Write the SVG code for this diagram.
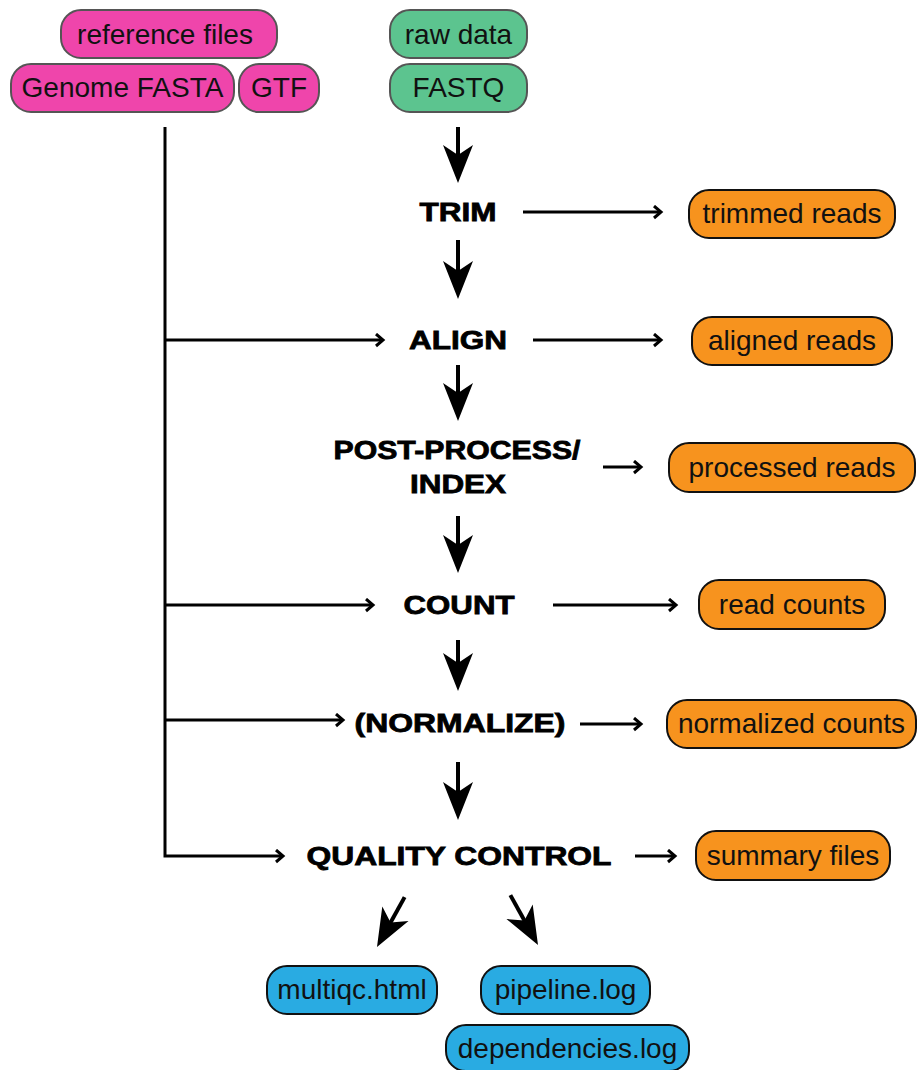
<svg xmlns="http://www.w3.org/2000/svg" width="919" height="1070" viewBox="0 0 919 1070">
<defs>
<style>
.box{stroke-width:2}
.pink{fill:#EF45AB;stroke:#555}
.green{fill:#5CC48F;stroke:#555}
.orange{fill:#F7931E;stroke:#111}
.blue{fill:#29ABE2;stroke:#111}
.lbl{font-family:"Liberation Sans",Arial,sans-serif;font-size:28px;fill:#111;text-anchor:middle}
.step{font-family:"Liberation Sans",Arial,sans-serif;font-weight:bold;font-size:26.5px;fill:#000;stroke:#000;stroke-width:0.8;text-anchor:middle}
.thin{stroke:#000;stroke-width:3;fill:none}
.shaft{stroke:#000;stroke-width:4;fill:none}
.head{fill:#000}
</style>
<marker id="chev" markerUnits="userSpaceOnUse" markerWidth="12" markerHeight="16" refX="8" refY="7" orient="auto">
<path d="M1,1 L8,7 L1,13" fill="none" stroke="#000" stroke-width="3"/>
</marker>
<g id="bigarrow">
<path class="head" d="M-15,-38 L0,0 L15,-38 L0,-28 Z"/>
</g>
</defs>
<rect width="919" height="1070" fill="#fff"/>

<g id="connectors">
<path class="thin" d="M165,127 L165,856 L283,856" marker-end="url(#chev)"/>
<line class="thin" x1="165" y1="340" x2="383" y2="340" marker-end="url(#chev)"/>
<line class="thin" x1="165" y1="605" x2="373" y2="605" marker-end="url(#chev)"/>
<line class="thin" x1="165" y1="720" x2="343" y2="720" marker-end="url(#chev)"/>

<line class="thin" x1="523" y1="212" x2="661" y2="212" marker-end="url(#chev)"/>
<line class="thin" x1="533" y1="340" x2="661" y2="340" marker-end="url(#chev)"/>
<line class="thin" x1="603" y1="467" x2="641" y2="467" marker-end="url(#chev)"/>
<line class="thin" x1="553" y1="605" x2="676" y2="605" marker-end="url(#chev)"/>
<line class="thin" x1="580" y1="724" x2="641" y2="724" marker-end="url(#chev)"/>
<line class="thin" x1="635" y1="856" x2="675" y2="856" marker-end="url(#chev)"/>

<line class="shaft" x1="458" y1="127" x2="458" y2="160"/>
<use href="#bigarrow" x="458" y="183"/>
<line class="shaft" x1="458" y1="240" x2="458" y2="275"/>
<use href="#bigarrow" x="458" y="299"/>
<line class="shaft" x1="458" y1="365" x2="458" y2="397"/>
<use href="#bigarrow" x="458" y="421"/>
<line class="shaft" x1="458" y1="516" x2="458" y2="550"/>
<use href="#bigarrow" x="458" y="573"/>
<line class="shaft" x1="458" y1="640" x2="458" y2="668"/>
<use href="#bigarrow" x="458" y="691"/>
<line class="shaft" x1="458" y1="762" x2="458" y2="796"/>
<use href="#bigarrow" x="458" y="820"/>

<g transform="translate(377,947) rotate(29)">
<line class="shaft" x1="0" y1="-57" x2="0" y2="-24"/>
<path class="head" d="M-15,-38 L0,0 L15,-38 L0,-28 Z"/>
</g>
<g transform="translate(538,945) rotate(-29)">
<line class="shaft" x1="0" y1="-57" x2="0" y2="-24"/>
<path class="head" d="M-15,-38 L0,0 L15,-38 L0,-28 Z"/>
</g>
</g>

<g id="node-reference-files"><rect class="box pink" x="61" y="10" width="216" height="48" rx="20"/><text class="lbl" x="165" y="44">reference files</text></g>
<g id="node-genome-fasta"><rect class="box pink" x="11" y="64" width="223" height="48" rx="20"/><text class="lbl" x="122.5" y="97">Genome FASTA</text></g>
<g id="node-gtf"><rect class="box pink" x="239" y="64" width="80" height="48" rx="20"/><text class="lbl" x="279" y="97">GTF</text></g>
<g id="node-raw-data"><rect class="box green" x="390" y="10" width="137" height="48" rx="20"/><text class="lbl" x="458.5" y="44">raw data</text></g>
<g id="node-fastq"><rect class="box green" x="390" y="64" width="137" height="48" rx="20"/><text class="lbl" x="458.5" y="97">FASTQ</text></g>

<g id="step-trim"><text class="step" x="458" y="221" textLength="77" lengthAdjust="spacingAndGlyphs">TRIM</text></g>
<g id="step-align"><text class="step" x="458" y="349" textLength="98" lengthAdjust="spacingAndGlyphs">ALIGN</text></g>
<g id="step-postprocess"><text class="step" x="457" y="459" textLength="247" lengthAdjust="spacingAndGlyphs">POST-PROCESS/</text><text class="step" x="458" y="493" textLength="96" lengthAdjust="spacingAndGlyphs">INDEX</text></g>
<g id="step-count"><text class="step" x="459" y="614" textLength="111" lengthAdjust="spacingAndGlyphs">COUNT</text></g>
<g id="step-normalize"><text class="step" x="460" y="732" textLength="211" lengthAdjust="spacingAndGlyphs">(NORMALIZE)</text></g>
<g id="step-qc"><text class="step" x="459" y="865" textLength="305" lengthAdjust="spacingAndGlyphs">QUALITY CONTROL</text></g>

<g id="node-trimmed-reads"><rect class="box orange" x="689" y="190" width="206" height="48" rx="20"/><text class="lbl" x="792" y="223">trimmed reads</text></g>
<g id="node-aligned-reads"><rect class="box orange" x="692" y="317" width="200" height="48" rx="20"/><text class="lbl" x="792" y="350">aligned reads</text></g>
<g id="node-processed-reads"><rect class="box orange" x="669" y="443" width="246" height="49" rx="20"/><text class="lbl" x="792" y="477">processed reads</text></g>
<g id="node-read-counts"><rect class="box orange" x="699" y="580" width="186" height="49" rx="20"/><text class="lbl" x="792" y="614">read counts</text></g>
<g id="node-normalized-counts"><rect class="box orange" x="667" y="700" width="249" height="48" rx="20"/><text class="lbl" x="791.5" y="733">normalized counts</text></g>
<g id="node-summary-files"><rect class="box orange" x="696" y="831" width="194" height="49" rx="20"/><text class="lbl" x="793" y="865">summary files</text></g>

<g id="node-multiqc"><rect class="box blue" x="267" y="966" width="170" height="48" rx="20"/><text class="lbl" x="352" y="999">multiqc.html</text></g>
<g id="node-pipeline-log"><rect class="box blue" x="481" y="966" width="169" height="48" rx="20"/><text class="lbl" x="565.5" y="999">pipeline.log</text></g>
<g id="node-dependencies-log"><rect class="box blue" x="446" y="1025" width="243" height="46" rx="20"/><text class="lbl" x="567.5" y="1058">dependencies.log</text></g>
</svg>
